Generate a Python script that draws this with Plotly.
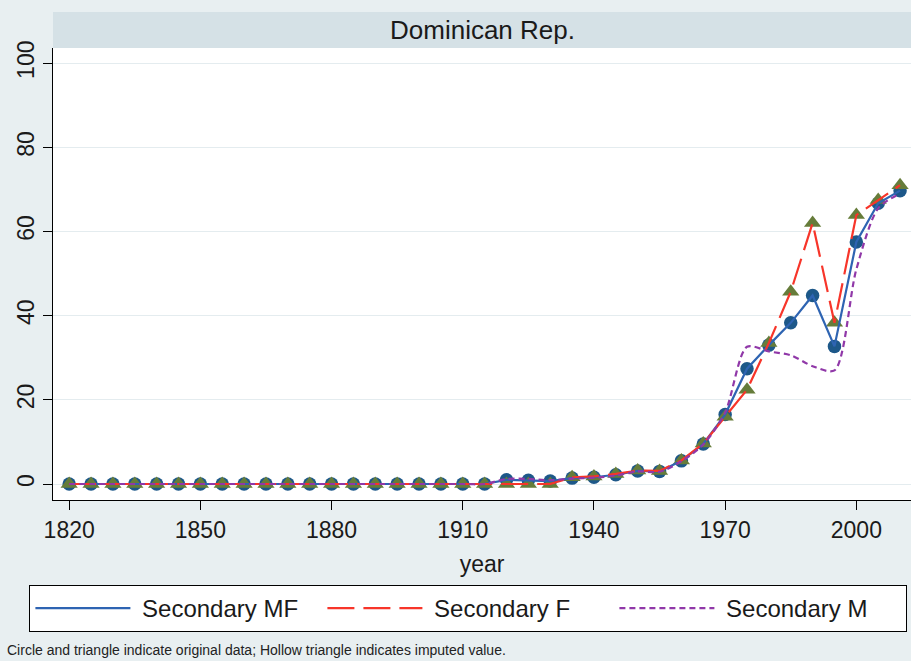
from plotly import graph_objects as go

years = [1820, 1825, 1830, 1835, 1840, 1845, 1850, 1855, 1860, 1865,
         1870, 1875, 1880, 1885, 1890, 1895, 1900, 1905, 1910, 1915,
         1920, 1925, 1930, 1935, 1940, 1945, 1950, 1955, 1960, 1965,
         1970, 1975, 1980, 1985, 1990, 1995, 2000, 2005, 2010]

early = [0] * 20  # 1820-1915 all zero

sec_mf = early + [1.0, 0.9, 0.7, 1.4, 1.6, 2.2, 3.1, 3.0, 5.5, 9.5,
                  16.5, 27.4, 33.0, 38.3, 44.8, 32.7, 57.5, 66.7, 69.7]
sec_f = early + [0.0, 0.0, 0.0, 1.6, 1.8, 2.4, 3.2, 3.1, 5.6, 9.6,
                 16.0, 22.4, 33.5, 45.7, 62.0, 38.3, 63.9, 67.5, 71.0]
sec_m = early + [1.2, 1.2, 0.9, 1.3, 1.5, 2.0, 3.0, 2.9, 5.4, 9.4,
                 17.0, 32.6, 31.5, 30.6, 28.0, 27.0, 51.0, 65.5, 69.0]

x_ticks = [1820, 1850, 1880, 1910, 1940, 1970, 2000]
y_ticks = [0, 20, 40, 60, 80, 100]

FONT = "Liberation Sans, Arial, Helvetica, sans-serif"

fig = go.Figure()

# markers first, lines on top
fig.add_trace(go.Scatter(x=years, y=sec_mf, mode="markers", showlegend=False,
                         marker=dict(symbol="circle", size=13.5, color="#1d5889")))
fig.add_trace(go.Scatter(x=years, y=sec_f, mode="markers", showlegend=False,
                         marker=dict(symbol="triangle-up", size=15, color="#667c3a")))

fig.add_trace(go.Scatter(x=years, y=sec_mf, mode="lines", name="\u00a0Secondary MF",
                         line=dict(color="#2e64b2", width=2.2)))
fig.add_trace(go.Scatter(x=years, y=sec_f, mode="lines", name="\u00a0Secondary F",
                         line=dict(color="#f7352a", width=2.2, dash="27px,9px")))
fig.add_trace(go.Scatter(x=years, y=sec_m, mode="lines", name="\u00a0Secondary M",
                         line=dict(color="#9038a8", width=2.2, dash="6px,4px",
                                   shape="spline", smoothing=0.8)))

fig.update_layout(
    width=911, height=661,
    margin=dict(l=53, r=0, t=48, b=161, autoexpand=False),
    paper_bgcolor="#e8eff1",
    plot_bgcolor="white",
    font=dict(family=FONT, size=23, color="#1a1a1a"),
    xaxis=dict(range=[1816.3, 2012.5], tickvals=x_ticks, ticks="outside",
               ticklen=9, tickcolor="black", showline=True, linecolor="black",
               linewidth=1, showgrid=False, zeroline=False, automargin=False,
               tickfont=dict(size=23),
               title=dict(text="year", standoff=14, font=dict(size=23))),
    yaxis=dict(range=[-3.8, 103.6], tickvals=y_ticks, tickangle=-90,
               ticks="outside", ticklen=9, tickcolor="black", showline=True,
               linecolor="black", linewidth=1, gridcolor="#e4ecef",
               gridwidth=1, zeroline=False, automargin=False,
               tickfont=dict(size=23)),
    legend=dict(orientation="h", x=-0.0275, xanchor="left", y=-0.188,
                yanchor="top", bgcolor="white", bordercolor="black",
                borderwidth=1, itemwidth=95, entrywidth=182,
                font=dict(size=24)),
    shapes=[dict(type="rect", xref="paper", yref="paper", x0=0, x1=1,
                 y0=1, y1=1.0796, fillcolor="#d5e1e6", line=dict(width=0),
                 layer="below")],
    annotations=[
        dict(text="Dominican Rep.", xref="paper", yref="paper", x=0.5,
             y=1.0398, yanchor="middle", showarrow=False,
             font=dict(size=26)),
        dict(text="Circle and triangle indicate original data; Hollow triangle indicates imputed value.",
             xref="paper", yref="paper", x=-0.0560, xanchor="left",
             y=-0.332, yanchor="middle", showarrow=False,
             font=dict(size=14, color="#222")),
    ],
)

# drop the default page margin so the figure fills the window
fig.write_html("out.html", config={"displayModeBar": False},
               post_script="document.body.style.margin='0';")
